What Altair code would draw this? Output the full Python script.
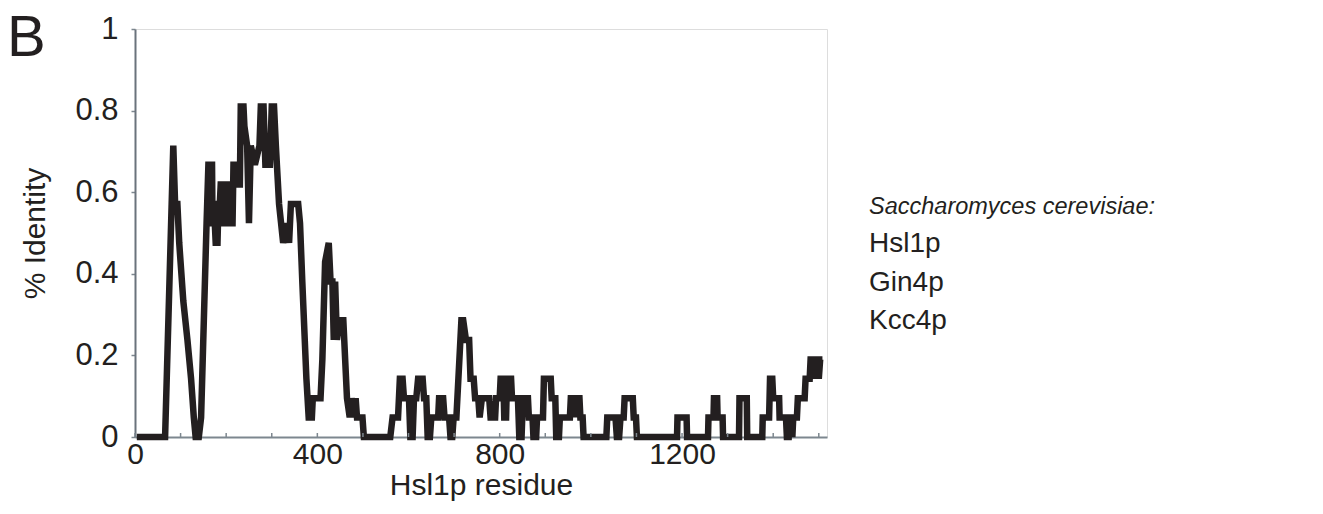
import altair as alt
import pandas as pd

# Sliding-window identity profile
residue = [4, 66, 84, 88, 93, 97, 106, 115, 123, 129, 133, 140, 145, 151, 157, 161, 169, 170, 175, 177,
           181, 183, 186, 188, 194, 195, 200, 201, 208, 210, 214, 216, 223, 224, 230, 232, 238, 240, 246, 250,
           254, 263, 273, 276, 282, 286, 296, 300, 305, 309, 316, 325, 333, 338, 342, 358, 362, 367, 376, 381,
           388, 390, 407, 411, 417, 425, 429, 433, 436, 439, 443, 448, 457, 461, 465, 471, 475, 480, 484, 487,
           499, 502, 560, 565, 577, 581, 587, 590, 601, 604, 609, 612, 617, 621, 631, 634, 639, 642, 647, 650,
           665, 667, 676, 679, 689, 692, 696, 699, 705, 716, 720, 726, 733, 736, 743, 746, 753, 756, 761, 777,
           780, 790, 792, 800, 802, 808, 810, 814, 816, 825, 827, 840, 843, 848, 851, 862, 864, 872, 874, 880,
           882, 895, 897, 912, 914, 922, 924, 930, 932, 954, 956, 964, 966, 968, 975, 977, 982, 984, 1034, 1036,
           1054, 1057, 1062, 1065, 1072, 1074, 1092, 1094, 1099, 1101, 1189, 1190, 1210, 1211, 1257, 1258, 1269, 1270, 1277, 1278,
           1289, 1290, 1325, 1326, 1342, 1343, 1376, 1377, 1391, 1393, 1398, 1400, 1413, 1414, 1428, 1430, 1434, 1436, 1440, 1442,
           1444, 1452, 1454, 1469, 1471, 1480, 1482, 1490, 1492, 1496, 1500, 1503, 1508]
identity = [0, 0, 0.714, 0.571, 0.571, 0.476, 0.333, 0.238, 0.143, 0.048, 0, 0, 0.048, 0.286, 0.524, 0.667, 0.667, 0.524, 0.524, 0.476,
            0.476, 0.571, 0.571, 0.619, 0.619, 0.524, 0.524, 0.619, 0.619, 0.524, 0.524, 0.667, 0.667, 0.619, 0.619, 0.81, 0.81, 0.762, 0.714, 0.524,
            0.714, 0.667, 0.714, 0.81, 0.81, 0.667, 0.667, 0.81, 0.81, 0.714, 0.571, 0.476, 0.524, 0.476, 0.571, 0.571, 0.524, 0.381, 0.143, 0.048,
            0.048, 0.095, 0.095, 0.19, 0.429, 0.476, 0.381, 0.381, 0.238, 0.381, 0.238, 0.286, 0.286, 0.19, 0.095, 0.048, 0.095, 0.048, 0.095, 0.048,
            0.048, 0, 0, 0.048, 0.048, 0.143, 0.143, 0.095, 0.095, 0, 0, 0.095, 0.095, 0.143, 0.143, 0.095, 0.095, 0, 0, 0.048,
            0.048, 0.095, 0.095, 0.048, 0.048, 0, 0, 0.048, 0.048, 0.286, 0.286, 0.238, 0.238, 0.143, 0.143, 0.095, 0.095, 0.048, 0.095, 0.095,
            0.048, 0.048, 0.095, 0.095, 0.143, 0.143, 0.048, 0.048, 0.143, 0.143, 0.095, 0.095, 0, 0, 0.095, 0.095, 0.048, 0.048, 0, 0,
            0.048, 0.048, 0.143, 0.143, 0.095, 0.095, 0, 0, 0.048, 0.048, 0.095, 0.095, 0.048, 0.095, 0.095, 0.048, 0.048, 0, 0, 0.048,
            0.048, 0, 0, 0.048, 0.048, 0.095, 0.095, 0.048, 0.048, 0, 0, 0.048, 0.048, 0, 0, 0.048, 0.048, 0.095, 0.095, 0.048,
            0.048, 0, 0, 0.095, 0.095, 0, 0, 0.048, 0.048, 0.143, 0.143, 0.095, 0.095, 0.048, 0.048, 0, 0, 0.048, 0.048, 0,
            0.048, 0.048, 0.095, 0.095, 0.143, 0.143, 0.19, 0.19, 0.143, 0.19, 0.143, 0.19, 0.19]

x_ticks = list(range(0, 1501, 100))
x_labels = [0, 400, 800, 1200]
y_labels = [0, 0.2, 0.4, 0.6, 0.8, 1]
panel_letter = "B"
legend_title = "Saccharomyces cerevisiae:"
legend_items = ["Hsl1p", "Gin4p", "Kcc4p"]

FONT = "Liberation Sans"
INK = "#231f20"
FRAME = "#7d878f"

df = pd.DataFrame({"residue": residue, "identity": identity})
x_scale = alt.Scale(domain=[0, 1518], nice=False, zero=False)
y_scale = alt.Scale(domain=[0, 1], nice=False)

line = alt.Chart(df).mark_line(color=INK, strokeWidth=6.5).encode(
    x=alt.X("residue:Q", scale=x_scale,
            axis=alt.Axis(values=x_labels, format="d", title="Hsl1p residue", ticks=False, grid=False,
                          domainColor=FRAME, domainWidth=2, labelFlush=False,
                          labelFont=FONT, labelFontSize=30, labelColor=INK, labelPadding=2,
                          titleFont=FONT, titleFontSize=30, titleFontWeight="normal", titleColor=INK,
                          titleBaseline="top", titleY=33)),
    y=alt.Y("identity:Q", scale=y_scale,
            axis=alt.Axis(values=y_labels, format=".1~f", title="% Identity", grid=False,
                          tickSize=4, tickColor=FRAME, tickWidth=1.5,
                          domainColor="#6a737c", domainWidth=2, labelFlush=False,
                          labelFont=FONT, labelFontSize=31, labelColor=INK, labelPadding=13,
                          titleFont=FONT, titleFontSize=30, titleFontWeight="normal", titleColor=INK,
                          titleBaseline="alphabetic", titleAngle=-90, titleX=-91, titleY=204)),
    order="order:Q",
).transform_window(order="row_number()")

ticks = alt.Chart(pd.DataFrame({"residue": x_ticks})).mark_rule(color=FRAME, strokeWidth=1.5).encode(
    x=alt.X("residue:Q", scale=x_scale),
    y=alt.value(408), y2=alt.value(404),
)

letter = alt.Chart(pd.DataFrame({"t": [panel_letter]})).mark_text(
    font=FONT, fontSize=58, color=INK, align="left", baseline="alphabetic"
).encode(text="t:N", x=alt.value(-128), y=alt.value(27))

layers = [line, ticks, letter]
layers.append(alt.Chart(pd.DataFrame({"t": [legend_title]})).mark_text(
    font=FONT, fontSize=23.5, fontStyle="italic", color=INK,
    align="left", baseline="alphabetic"
).encode(text="t:N", x=alt.value(734), y=alt.value(185)))
for i, item in enumerate(legend_items):
    layers.append(alt.Chart(pd.DataFrame({"t": [item]})).mark_text(
        font=FONT, fontSize=28, color=INK, align="left", baseline="alphabetic"
    ).encode(text="t:N", x=alt.value(734), y=alt.value(223 + 38.5 * i)))

chart = alt.layer(*layers).properties(
    width=692, height=408,
    autosize="none",
    padding={"left": 127, "top": 21, "right": 488, "bottom": 69},
).configure_view(stroke=FRAME, strokeWidth=2).configure(background="white")

chart.save("out.html", embed_options={"renderer": "svg", "actions": False})
